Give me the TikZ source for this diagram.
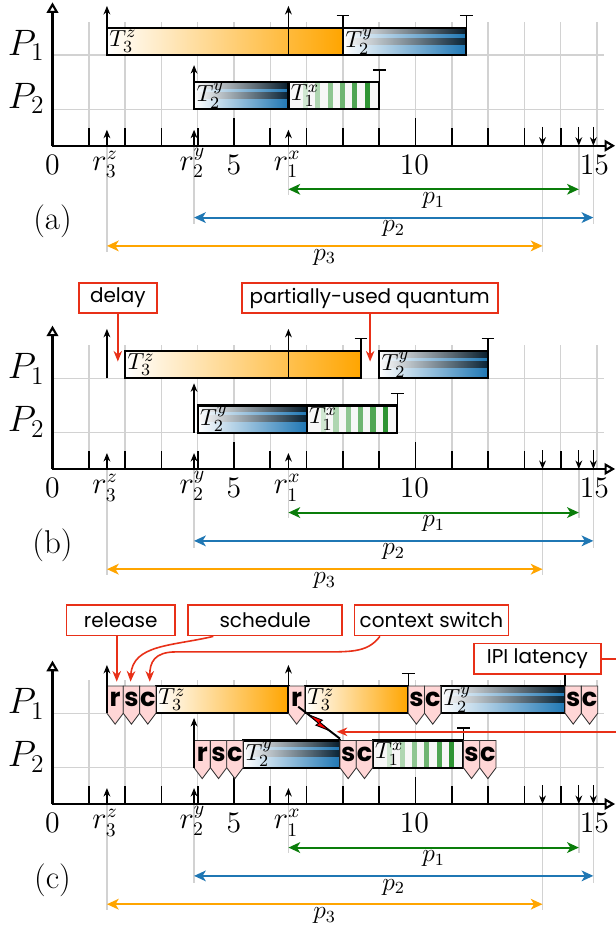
\documentclass[tikz,border=0pt]{standalone}
\usepackage{amsmath}
\usepackage{fontspec}
\newfontfamily\boxfont{Poppins}
\usepackage{tikz}
\usetikzlibrary{arrows.meta, positioning, calc}

\definecolor{tblue}{RGB}{31,119,180}
\definecolor{torange}{RGB}{255,165,0}
\definecolor{tgreen}{RGB}{40,145,45}
\definecolor{pgreen}{RGB}{10,125,10}
\definecolor{callred}{RGB}{232,48,24}
\definecolor{ovhpink}{RGB}{255,214,214}

% job of task 3 (orange)
\newcommand{\jobz}[4]{%
  \shade[left color=white, right color=torange] (#2,#4) rectangle (#3,#4+0.75);
  \draw[jobframe] (#2,#4) rectangle (#3,#4+0.75);
  \node[joblabel] (#1) at (#2,#4+0.375) {$T_3^z$};}
% job of task 2 (blue)
\newcommand{\joby}[4]{%
  \shade[left color=white, right color=tblue] (#2,#4) rectangle (#3,#4+0.75);
  \shade[left color=white, right color=black, opacity=0.75] (#2,#4+0.585) rectangle (#3,#4+0.75);
  \shade[left color=white, right color=black, opacity=0.7] (#2,#4+0.3) rectangle (#3,#4+0.465);
  \draw[jobframe] (#2,#4) rectangle (#3,#4+0.75);
  \node[joblabel] (#1) at (#2,#4+0.375) {$T_2^y$};}
% job of task 1 (green)
\newcommand{\jobx}[4]{%
  \fill[gray!6] (#2,#4) rectangle (#3,#4+0.75);
  \foreach \k in {0,...,5} {
    \pgfmathtruncatemacro\g{22+15*\k}
    \fill[tgreen!\g!white] (#2+0.4+0.34*\k,#4) rectangle (#2+0.54+0.34*\k,#4+0.75);
  }
  \draw[jobframe] (#2,#4) rectangle (#3,#4+0.75);
  \node[joblabel] (#1) at (#2,#4+0.375) {$T_1^x$};}
% overhead marker
\newcommand{\ovh}[4]{%
  \draw[ovh] (#2,#3+0.75) -- (#2+0.45,#3+0.75) -- (#2+0.45,#3) -- (#2+0.225,#3-0.3) -- (#2,#3) -- cycle;
  \node[ovhlabel] (#1) at (#2+0.225,#3+0.38) {#4};}
% axis, grid and periods
\newcommand{\timeframe}[1]{%
  \foreach \x in {1,...,15}
    \draw[gridline] (\x,0) -- (\x,3.42);
  \draw[gridline] (0,1) -- (15.2,1);
  \draw[gridline] (0,2.5) -- (15.2,2.5);
  \foreach \x/\y in {1.5/2.92, 3.9/2.17, 6.5/1.36, 13.5/2.92, 14.5/1.36, 14.9/2.17}
    \draw[gridline] (\x,0) -- (\x,-\y);
  \foreach \x in {1,...,14}
    \draw[tickline] (\x,0) -- (\x,0.5);
  \draw[tickline] (5,0) -- (5,0.75);
  \draw[tickline] (10,0) -- (10,0.75);
  \draw[axisline] (0,0) -- (15.5,0);
  \draw[axisline] (0,0) -- (0,3.95);
  \foreach \x in {1.5,3.9,6.5}
    \draw[relarrow] (\x,0) -- (\x,0.44);
  \foreach \x in {13.5,14.5,14.9}
    \draw[relarrow] (\x,0.52) -- (\x,0);
  % labels
  \node[numlabel] (#1-n0) at (0,-0.78) {0};
  \node[numlabel] (#1-n5) at (5,-0.78) {5};
  \node[numlabel] (#1-n10) at (9.97,-0.78) {10};
  \node[numlabel] (#1-n15) at (14.93,-0.78) {15};
  \node[rlabel] (#1-r3) at (1.5-0.41,-0.68) {$r_3^z$};
  \node[rlabel] (#1-r2) at (3.9-0.41,-0.68) {$r_2^y$};
  \node[rlabel] (#1-r1) at (6.5-0.41,-0.68) {$r_1^x$};
  \node[proclabel] (#1-P1) at (-0.72,2.76) {$P_1$};
  \node[proclabel] (#1-P2) at (-0.72,1.3) {$P_2$};
  \node[panellabel] (#1-lab) at (0,-2.09) {(#1)};
  % periods
  \draw[period, pgreen] (6.5,-1.2) -- node[plabel] (#1-p1) {$p_1$} (14.5,-1.2);
  \draw[period, tblue] (3.9,-1.98) -- node[plabel] (#1-p2) {$p_2$} (14.9,-1.98);
  \draw[period, torange] (1.5,-2.76) -- node[plabel] (#1-p3) {$p_3$} (13.5,-2.76);}

\begin{document}
\begin{tikzpicture}[
    x=0.6cm, y=0.6cm,
    gridline/.style={gray!35, line width=0.7pt},
    axisline/.style={line width=1pt, -{Triangle[open, length=5pt, width=5.5pt]}},
    tickline/.style={line width=0.8pt},
    jobframe/.style={line width=1pt},
    joblabel/.style={anchor=west, inner sep=1pt, font=\fontsize{11}{12}\selectfont},
    relarrow/.style={line width=0.55pt, -{Stealth[length=4pt, width=3.2pt]}},
    donemark/.style={line width=0.6pt, -{Bar[width=6pt]}},
    numlabel/.style={anchor=base, inner sep=0pt, font=\fontsize{14}{15}\selectfont},
    rlabel/.style={anchor=base west, inner sep=0pt, font=\fontsize{13.5}{15}\selectfont},
    plabel/.style={below, inner sep=1pt, text=black, font=\fontsize{12}{13}\selectfont},
    period/.style={line width=0.95pt,
        {Stealth[length=5.5pt, width=5pt, inset=1.5pt]}-{Stealth[length=5.5pt, width=5pt, inset=1.5pt]}},
    proclabel/.style={inner sep=0pt, font=\fontsize{17}{18}\selectfont},
    panellabel/.style={inner sep=0pt, font=\fontsize{15.5}{17}\selectfont},
    callout/.style={draw=callred, line width=0.75pt, fill=white, inner sep=0pt,
        minimum height=0.504cm, font=\boxfont\fontsize{9.4}{11}\selectfont},
    calloutarrow/.style={callred, line width=0.75pt, -{Stealth[length=5pt, width=4pt]}},
    ovh/.style={draw=black!80, line width=0.4pt, fill=ovhpink},
    ovhlabel/.style={inner sep=0pt, font=\boxfont\bfseries\fontsize{12}{13}\selectfont}
]
\useasboundingbox (-1.446,-21.606) rectangle (15.52,4.014);
\fill[white] (-1.446,-21.606) rectangle (15.52,4.014);

% (a) ideal schedule
\begin{scope}
  \timeframe{a}
  \jobz{a-T3}{1.5}{8}{2.5}
  \joby{a-T2b}{8}{11.4}{2.5}
  \joby{a-T2a}{3.9}{6.5}{1}
  \jobx{a-T1}{6.5}{9}{1}
  \draw[relarrow] (1.5,2.5) -- (1.5,3.85);
  \draw[relarrow] (6.5,2.5) -- (6.5,3.85);
  \draw[relarrow] (3.9,1) -- (3.9,2.22);
  \draw[donemark] (8,3.25) -- (8,3.6);
  \draw[donemark] (11.4,3.25) -- (11.4,3.6);
  \draw[donemark] (9,1.75) -- (9,2.1);
\end{scope}

% (b) quantum-driven schedule
\begin{scope}[shift={(0,-8.906)}]
  \timeframe{b}
  \jobz{b-T3}{2}{8.5}{2.5}
  \joby{b-T2b}{9}{12}{2.5}
  \joby{b-T2a}{4}{7}{1}
  \jobx{b-T1}{7}{9.5}{1}
  \draw[relarrow] (1.5,2.5) -- (1.5,3.86);
  \draw[relarrow] (6.5,2.5) -- (6.5,3.86);
  \draw[relarrow] (3.9,1) -- (3.9,2.36);
  \draw[donemark] (8.5,3.25) -- (8.5,3.62);
  \draw[donemark] (12,3.25) -- (12,3.62);
  \draw[donemark] (9.5,1.75) -- (9.5,2.1);
  % callouts
  \node[callout, minimum width=1.29cm] (delay) at (1.8,4.71) {delay};
  \node[callout, minimum width=4.23cm] (quantum) at (8.74,4.71) {partially-used quantum};
  \coordinate (b-delaytip) at (1.8,2.96);
  \coordinate (b-quanttip) at (8.75,2.96);
  \draw[calloutarrow] (delay.south -| b-delaytip) -- (b-delaytip);
  \draw[calloutarrow] (quantum.south -| b-quanttip) -- (b-quanttip);
\end{scope}

% (c) schedule with overheads
\begin{scope}[shift={(0,-18.135)}]
  \timeframe{c}
  \jobz{c-T3a}{2.85}{6.5}{2.5}
  \jobz{c-T3b}{6.95}{9.8}{2.5}
  \joby{c-T2b}{10.7}{14.12}{2.5}
  \joby{c-T2a}{5.25}{7.92}{1}
  \jobx{c-T1}{8.82}{11.32}{1}
  % overheads on P1
  \ovh{c-r3}{1.5}{2.5}{r}
  \ovh{c-s3}{1.95}{2.5}{s}
  \ovh{c-c3}{2.4}{2.5}{c}
  \ovh{c-r1}{6.5}{2.5}{r}
  \ovh{c-s2b}{9.8}{2.5}{s}
  \ovh{c-c2b}{10.25}{2.5}{c}
  \ovh{c-s4}{14.12}{2.5}{s}
  \ovh{c-c4}{14.57}{2.5}{c}
  % overheads on P2
  \ovh{c-r2}{3.9}{1}{r}
  \ovh{c-s2}{4.35}{1}{s}
  \ovh{c-c2}{4.8}{1}{c}
  \ovh{c-s1}{7.92}{1}{s}
  \ovh{c-c1}{8.37}{1}{c}
  \ovh{c-s5}{11.32}{1}{s}
  \ovh{c-c5}{11.77}{1}{c}
  \draw[relarrow] (1.5,2.5) -- (1.5,3.83);
  \draw[relarrow] (6.5,2.5) -- (6.5,3.83);
  \draw[relarrow] (3.9,1) -- (3.9,2.37);
  \draw[donemark] (9.8,3.25) -- (9.8,3.62);
  \draw[donemark] (14.12,3.25) -- (14.12,3.62);
  \draw[donemark] (11.32,1.75) -- (11.32,2.11);
  % IPI
  \coordinate (c-ipifrom) at (6.77,2.68);
  \coordinate (c-ipito) at (7.92,1.8);
  \draw[line width=0.9pt] (c-ipifrom) -- (c-ipito);
  \begin{scope}[shift={($(c-ipifrom)!0.5!(c-ipito)$)}, rotate=-37.4]
    \draw[fill=red, line width=0.4pt] (-0.36,0) -- (0.03,0.11) -- (0,0.025) -- (0.36,0) -- (-0.03,-0.11) -- (0,-0.025) -- cycle;
  \end{scope}
  % callouts
  \node[callout, minimum width=1.788cm] (release) at (1.88,5.06) {release};
  \node[callout, minimum width=2.544cm] (schedule) at (5.86,5.06) {schedule};
  \node[callout, minimum width=2.544cm] (switch) at (10.44,5.06) {context switch};
  \node[callout, minimum width=2.1cm] (ipi) at (13.36,4.0) {IPI latency};
  \coordinate (c-rtip) at (1.77,3.37);
  \coordinate (c-stip) at (2.15,3.37);
  \coordinate (c-ctip) at (2.68,3.37);
  \coordinate (c-ipitip) at (7.83,1.99);
  \draw[calloutarrow] (release.south -| c-rtip) -- (c-rtip);
  \draw[calloutarrow] ($(schedule.south)+(-1.43,0)$) .. controls (3.3,4.35) and (2.2,4.4) .. (c-stip);
  \draw[calloutarrow] ($(switch.south)+(-1.42,0)$) .. controls (8.7,4.2) and (8.3,4.19) .. (7.5,4.19)
      -- (3.4,4.19) .. controls (2.8,4.19) and (2.68,3.9) .. (c-ctip);
  \draw[calloutarrow] (ipi.east) -- (15.9,4.0) -- (15.9,1.99) -- (c-ipitip);
\end{scope}
\end{tikzpicture}
\end{document}
